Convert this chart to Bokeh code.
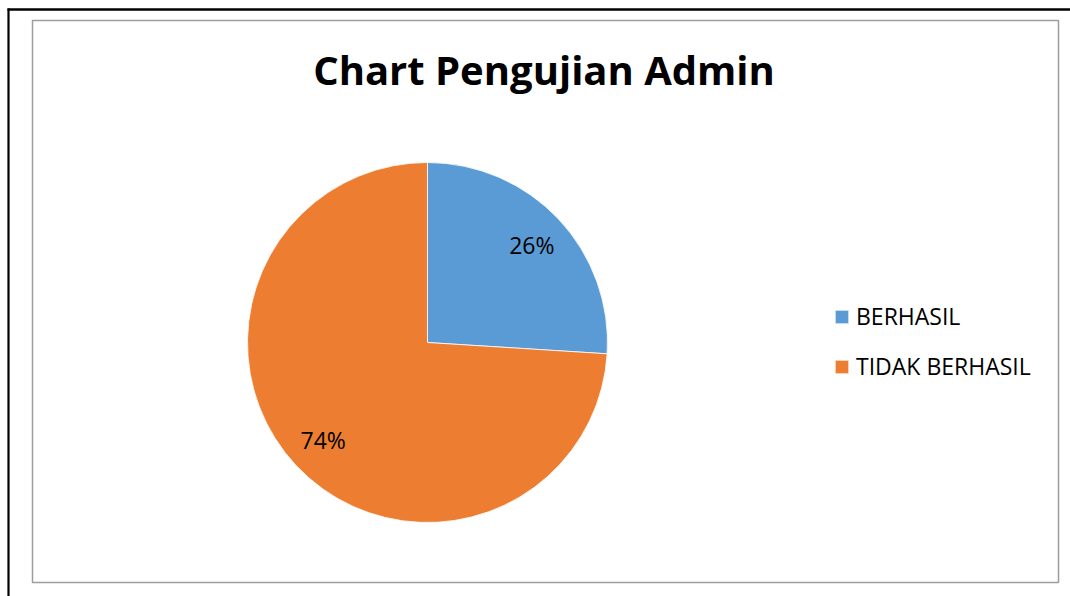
import math
from bokeh.plotting import figure
from bokeh.models import Range1d, ColumnDataSource, Legend, LegendItem
from bokeh.core.properties import value
from bokeh.embed import file_html
from bokeh.resources import INLINE

# ---- data ----
categories = ["BERHASIL", "TIDAK BERHASIL"]
values = [26, 74]
colors = ["#5B9BD5", "#ED7D31"]
title_text = "Chart Pengujian Admin"

W, H = 1070, 596
p = figure(width=W, height=H, output_backend="svg", toolbar_location=None,
           x_axis_type=None, y_axis_type=None, min_border=0,
           x_range=Range1d(0, W), y_range=Range1d(0, H))
p.outline_line_color = None
p.grid.visible = False
p.background_fill_color = "white"
p.border_fill_color = "white"

# page decorations: outer black frame (top and left) and inner grey chart box
p.line(x=[7, W], y=[587, 587], line_color="black", line_width=2.5)
p.line(x=[8, 8], y=[0, 588], line_color="black", line_width=2.2)
p.quad(left=32, right=1058, bottom=14, top=576, fill_alpha=0,
       line_color="#9d9d9d", line_width=1.5)

# pie
total = sum(values)
cx, cy, R = 427, 254, 180
starts, ends, lx, ly, labels = [], [], [], [], []
a = math.pi / 2
for v in values:
    sweep = 2 * math.pi * v / total
    starts.append(a)
    ends.append(a - sweep)
    mid = a - sweep / 2
    lx.append(cx + 0.795 * R * math.cos(mid))
    ly.append(cy + 0.795 * R * math.sin(mid))
    labels.append(f"{round(100 * v / total)}%")
    a -= sweep

src = ColumnDataSource(dict(cat=categories, start=starts, end=ends, color=colors,
                            lx=lx, ly=ly, lab=labels))
wr = p.wedge(x=cx, y=cy, radius=R, start_angle="start", end_angle="end",
             direction="clock", fill_color="color", line_color="white",
             line_width=0.8, source=src)

p.text(x="lx", y="ly", text="lab", source=src, text_align="center",
       text_baseline="middle", text_font=value("Open Sans"),
       text_font_size="23px", text_color="black")

# title
p.text(x=[543.5], y=[527], text=[title_text], text_align="center",
       text_baseline="alphabetic", text_font=value("Open Sans"),
       text_font_style="bold", text_font_size="40px", text_color="black")

# legend
items = [LegendItem(label=c, renderers=[wr], index=i) for i, c in enumerate(categories)]
legend = Legend(items=items, location=(833, 214), orientation="vertical",
                glyph_width=17, glyph_height=17, label_standoff=6,
                label_text_font="Open Sans", label_text_font_size="23px",
                label_text_color="black", label_height=22,
                spacing=18, padding=0, margin=0,
                border_line_alpha=0, background_fill_alpha=0)
p.add_layout(legend, "center")

open("out.html", "w").write(file_html(p, INLINE))
